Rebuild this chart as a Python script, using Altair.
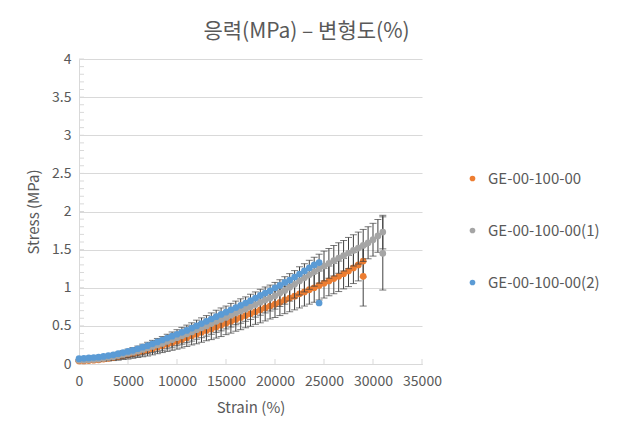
import altair as alt
import pandas as pd

SERIES = ["GE-00-100-00", "GE-00-100-00(1)", "GE-00-100-00(2)"]
COLORS = ["#ED7D31", "#A5A5A5", "#5B9BD5"]

STRAIN = [0, 500, 1000, 1500, 2000, 2500, 3000, 3500, 4000, 4500,
          5000, 5500, 6000, 6500, 7000, 7500, 8000, 8500, 9000, 9500,
          10000, 10500, 11000, 11500, 12000, 12500, 13000, 13500, 14000, 14500,
          15000, 15500, 16000, 16500, 17000, 17500, 18000, 18500, 19000, 19500,
          20000, 20500, 21000, 21500, 22000, 22500, 23000, 23500, 24000, 24500,
          25000, 25500, 26000, 26500, 27000, 27500, 28000, 28500, 29000, 29500,
          30000, 30500, 31000]

ORANGE_STRESS = [0.04, 0.04, 0.045, 0.05, 0.055, 0.065, 0.075, 0.085, 0.095, 0.11,
                 0.12, 0.135, 0.15, 0.165, 0.18, 0.20, 0.22, 0.24, 0.26, 0.28,
                 0.30, 0.32, 0.345, 0.37, 0.39, 0.415, 0.44, 0.46, 0.485, 0.51,
                 0.535, 0.56, 0.585, 0.61, 0.635, 0.66, 0.685, 0.71, 0.735, 0.76,
                 0.785, 0.81, 0.84, 0.865, 0.89, 0.92, 0.945, 0.975, 1.00, 1.03,
                 1.06, 1.09, 1.12, 1.15, 1.185, 1.22, 1.26, 1.30, 1.35]
ORANGE_ERR = [0.01, 0.01, 0.015, 0.02, 0.025, 0.03, 0.035, 0.04, 0.045, 0.05,
              0.055, 0.06, 0.065, 0.07, 0.075, 0.08, 0.085, 0.09, 0.095, 0.10,
              0.105, 0.11, 0.115, 0.12, 0.125, 0.13, 0.135, 0.14, 0.145, 0.15,
              0.15, 0.155, 0.155, 0.16, 0.16, 0.165, 0.165, 0.17, 0.17, 0.17,
              0.175, 0.175, 0.18, 0.18, 0.18, 0.185, 0.185, 0.19, 0.19, 0.19,
              0.195, 0.195, 0.20, 0.20, 0.20, 0.205, 0.205, 0.21, 0.21]

GRAY_STRESS = [0.05, 0.05, 0.055, 0.06, 0.065, 0.075, 0.085, 0.095, 0.11, 0.125,
               0.14, 0.155, 0.17, 0.19, 0.21, 0.23, 0.25, 0.27, 0.295, 0.32,
               0.345, 0.37, 0.395, 0.42, 0.45, 0.475, 0.50, 0.53, 0.56, 0.585,
               0.61, 0.64, 0.67, 0.695, 0.72, 0.75, 0.78, 0.81, 0.84, 0.865,
               0.895, 0.93, 0.965, 1.005, 1.045, 1.09, 1.13, 1.17, 1.21, 1.25,
               1.285, 1.32, 1.355, 1.39, 1.42, 1.455, 1.49, 1.52, 1.555, 1.59,
               1.63, 1.68, 1.73]
GRAY_ERR = [0.01, 0.01, 0.015, 0.02, 0.025, 0.03, 0.035, 0.04, 0.045, 0.05,
            0.055, 0.06, 0.065, 0.07, 0.075, 0.08, 0.085, 0.09, 0.095, 0.10,
            0.105, 0.11, 0.115, 0.12, 0.125, 0.13, 0.135, 0.14, 0.145, 0.15,
            0.15, 0.155, 0.155, 0.16, 0.16, 0.165, 0.165, 0.17, 0.17, 0.17,
            0.175, 0.175, 0.18, 0.18, 0.18, 0.185, 0.185, 0.19, 0.19, 0.19,
            0.195, 0.195, 0.20, 0.20, 0.20, 0.205, 0.205, 0.21, 0.21, 0.21,
            0.215, 0.215, 0.22]

BLUE_STRESS = [0.07, 0.075, 0.08, 0.085, 0.09, 0.10, 0.11, 0.12, 0.135, 0.15,
               0.165, 0.18, 0.20, 0.22, 0.24, 0.265, 0.29, 0.315, 0.34, 0.365,
               0.39, 0.415, 0.44, 0.47, 0.50, 0.53, 0.56, 0.59, 0.62, 0.65,
               0.68, 0.71, 0.74, 0.77, 0.80, 0.83, 0.865, 0.90, 0.93, 0.96,
               1.00, 1.03, 1.07, 1.10, 1.14, 1.18, 1.22, 1.26, 1.30, 1.33]

# final (last) points that drop below each curve
OUTLIER_SERIES = ["GE-00-100-00", "GE-00-100-00(1)", "GE-00-100-00(2)"]
OUTLIER_STRAIN = [29000, 31000, 24500]
OUTLIER_STRESS = [1.15, 1.45, 0.80]
OUTLIER_ERR = [0.39, 0.48, 0.0]

X_TICKS = [0, 5000, 10000, 15000, 20000, 25000, 30000, 35000]
Y_MAJOR = [0, 0.5, 1, 1.5, 2, 2.5, 3, 3.5, 4]
Y_MINOR = [0.1, 0.2, 0.3, 0.4, 0.5, 0.6, 0.7, 0.8, 0.9, 1.0,
           1.1, 1.2, 1.3, 1.4, 1.5, 1.6, 1.7, 1.8, 1.9, 2.0,
           2.1, 2.2, 2.3, 2.4, 2.5, 2.6, 2.7, 2.8, 2.9, 3.0,
           3.1, 3.2, 3.3, 3.4, 3.5, 3.6, 3.7, 3.8, 3.9, 4.0]

rows = []
for vals, errs, name in [(ORANGE_STRESS, ORANGE_ERR, SERIES[0]),
                         (GRAY_STRESS, GRAY_ERR, SERIES[1]),
                         (BLUE_STRESS, [0.0] * len(BLUE_STRESS), SERIES[2])]:
    for i, v in enumerate(vals):
        rows.append({"series": name, "strain": STRAIN[i], "stress": v, "err": errs[i]})
for s, xv, v, e in zip(OUTLIER_SERIES, OUTLIER_STRAIN, OUTLIER_STRESS, OUTLIER_ERR):
    rows.append({"series": s, "strain": xv, "stress": v, "err": e})
df = pd.DataFrame(rows)
df["lo"] = df["stress"] - df["err"]
df["hi"] = df["stress"] + df["err"]

FONT = "Noto Sans CJK KR"
W, H = 343, 305

xs = alt.Scale(domain=[0, 35000], nice=False, zero=False)
ys = alt.Scale(domain=[0, 4], nice=False)

x_axis = alt.Axis(values=X_TICKS, grid=False, title="Strain (%)", format="d",
                  labelPadding=10, titlePadding=12, labelOverlap=False, labelFlush=False)
y_axis = alt.Axis(values=Y_MAJOR, grid=True, title="Stress (MPa)", format="~g",
                  labelPadding=8, titlePadding=10, labelOverlap=False, labelFlush=False)


def X(field):
    return alt.X(field, scale=xs, axis=x_axis)


def Y(field):
    return alt.Y(field, scale=ys, axis=y_axis)


color = alt.Color("series:N",
                  scale=alt.Scale(domain=SERIES, range=COLORS),
                  legend=alt.Legend(title=None, orient="none", legendX=386, legendY=112,
                                    labelFontSize=15, labelColor="#595959", labelFont=FONT,
                                    symbolType="circle", symbolSize=32, rowPadding=36,
                                    labelOffset=8, padding=0, symbolStrokeWidth=0))

base = alt.Chart(df)

minor = alt.Chart(pd.DataFrame({"stress": Y_MINOR})).mark_rule(color="#D9D9D9").encode(
    y=Y("stress:Q"), x=alt.value(0), x2=alt.value(5))
xticks = alt.Chart(pd.DataFrame({"strain": X_TICKS})).mark_rule(color="#D9D9D9").encode(
    x=X("strain:Q"), y=alt.value(H - 5), y2=alt.value(H + 1))


def bars(name):
    d = base.transform_filter(alt.datum.series == name).transform_filter(alt.datum.err > 0)
    rule = d.mark_rule(color="#404040", strokeWidth=1).encode(
        x=X("strain:Q"), y=Y("lo:Q"), y2="hi:Q")
    cap_lo = d.mark_tick(orient="horizontal", size=7, thickness=1, color="#404040").encode(
        x=X("strain:Q"), y=Y("lo:Q"))
    cap_hi = d.mark_tick(orient="horizontal", size=7, thickness=1, color="#404040").encode(
        x=X("strain:Q"), y=Y("hi:Q"))
    return [rule, cap_lo, cap_hi]


def points(name):
    d = base.transform_filter(alt.datum.series == name)
    return d.mark_circle(size=45, opacity=1).encode(x=X("strain:Q"), y=Y("stress:Q"), color=color)


layers = [minor, xticks]
layers += bars(SERIES[0])
layers.append(points(SERIES[0]))
layers += bars(SERIES[1])
layers.append(points(SERIES[1]))
layers.append(points(SERIES[2]))

chart = alt.layer(*layers).properties(
    width=W, height=H,
    autosize=alt.AutoSizeParams(type="none"),
    padding={"left": 71, "top": 51, "right": 180, "bottom": 62},
    title=alt.TitleParams("응력(MPa) – 변형도(%)", fontSize=21, font=FONT, color="#595959",
                          fontWeight="normal", anchor="middle", dx=56, offset=10),
).configure_view(stroke=None).configure_axis(
    domainColor="#D9D9D9", gridColor="#D9D9D9", labelColor="#595959", titleColor="#595959",
    labelFont=FONT, titleFont=FONT, labelFontSize=14, titleFontSize=15,
    titleFontWeight="normal", ticks=False, tickSize=0,
)

chart.save("out.html", embed_options={"renderer": "svg", "actions": False})
